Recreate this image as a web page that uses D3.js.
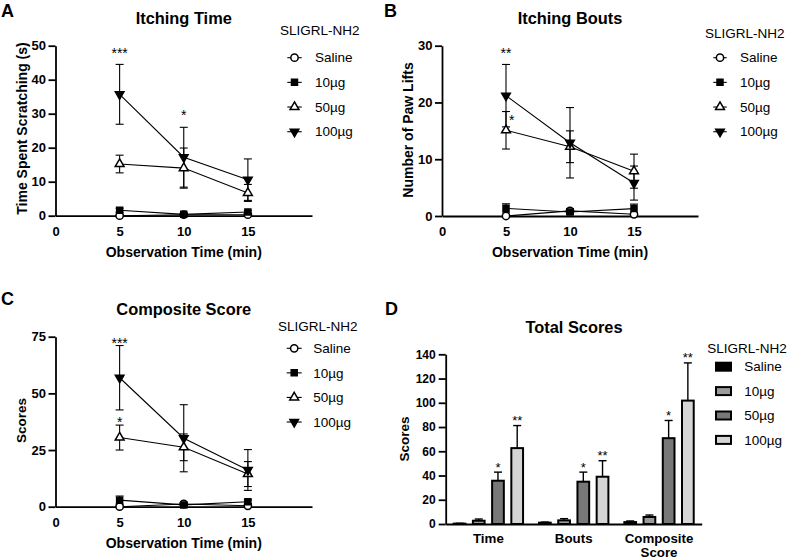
<!DOCTYPE html>
<html><head><meta charset="utf-8">
<script src="https://cdn.jsdelivr.net/npm/d3@7"></script>
<style>
body{margin:0;background:#fff}
svg{display:block}
text{font-family:"Liberation Sans",Arial,Helvetica,sans-serif;fill:#000}
</style>
</head><body>
<svg id="c" width="787" height="560"></svg>
<script>
// ---------- data ----------
const times = [5, 10, 15];
const groups = ["Saline", "10µg", "50µg", "100µg"];
const xTicks = [0, 5, 10, 15];

const timeMeans = [[0, 0.3, 0.3], [1.6, 0.4, 1.1], [15.2, 14.0, 6.7], [35.7, 17.2, 10.6]];
const timeErrs  = [[0.2, 0.3, 0.3], [0.6, 0.3, 0.4], [2.6, 5.9, 2.5], [8.8, 8.8, 6.1]];
const timeTicks = [0, 10, 20, 30, 40, 50];
const timeStars = [[5, 48.8, "***"], [10, 30.6, "*"]];

const boutMeans = [[0, 0.9, 0.3], [1.35, 0.7, 1.3], [15.1, 12.2, 7.9], [21.2, 12.9, 5.8]];
const boutErrs  = [[0.2, 0.4, 0.2], [0.8, 0.4, 0.8], [3.3, 2.8, 3.0], [5.5, 6.2, 3.0]];
const boutTicks = [0, 10, 20, 30];
const boutStars = [[5, 29.2, "**"], [5.45, 17.5, "*"]];

const compMeans = [[0, 1.2, 0.4], [2.9, 0.8, 2.2], [30.5, 26.2, 14.4], [56.9, 30.2, 16.2]];
const compErrs  = [[0.3, 0.5, 0.3], [1.8, 0.5, 0.8], [5.5, 5.9, 5.5], [14.2, 14.8, 9.0]];
const compTicks = [0, 25, 50, 75];
const compStars = [[5, 73.5, "***"], [5, 38.7, "*"]];

const totalCats  = ["Time", "Bouts", "Composite Score"];
const totalMeans = [[0.3, 1.1, 1.6], [2.7, 3.0, 5.8], [35.7, 34.9, 70.8], [62.6, 39.0, 101.8]];
const totalErrs  = [[0.3, 0.5, 0.9], [1.4, 1.4, 1.6], [7.1, 7.9, 14.6], [18.6, 13.2, 31.1]];
const totalTicks = [0, 20, 40, 60, 80, 100, 120, 140];
const totalStars = [["", "", ""], ["", "", ""], ["*", "*", "*"], ["**", "**", "**"]];

const legendTitle = "SLIGRL-NH2";

// ---------- styles ----------
const symTypes = [d3.symbolCircle, d3.symbolSquare, d3.symbolTriangle, d3.symbolTriangle];
const symRot   = [0, 0, 0, 180];
const symFill  = ["#fff", "#000", "#fff", "#000"];
const symSize  = [42, 36, 34, 32];
const barFill  = ["#000", "#9b9b9b", "#787878", "#d5d5d5"];

const svg = d3.select("#c");

function styleAxis(g, fs, sw) {
  g.selectAll("path.domain").attr("stroke", "#000").attr("stroke-width", sw);
  g.selectAll(".tick line").attr("stroke", "#000").attr("stroke-width", sw);
  g.selectAll("text").attr("font-size", fs).attr("font-weight", "bold")
    .attr("font-family", '"Liberation Sans",Arial,sans-serif').attr("fill", "#000");
}

function marker(sel, i, x, y) {
  sel.append("path")
    .attr("d", d3.symbol().type(symTypes[i]).size(symSize[i])())
    .attr("transform", `translate(${x},${y}) rotate(${symRot[i]})`)
    .attr("fill", symFill[i]).attr("stroke", "#000").attr("stroke-width", 1.5);
}

function linePanel(c) {
  const x = d3.scaleLinear().domain([0, 20]).range(c.xr);
  const y = d3.scaleLinear().domain([0, c.ymax]).range(c.yr);
  const g = svg.append("g");

  const ya = g.append("g").attr("transform", `translate(${c.xr[0]},0)`)
    .call(d3.axisLeft(y).tickValues(c.ticks).tickSize(7).tickSizeOuter(0).tickPadding(2.5));
  styleAxis(ya, 13, 1.8);
  const xa = g.append("g").attr("transform", `translate(0,${c.yr[0]})`)
    .call(d3.axisBottom(x).tickValues(xTicks).tickSize(0).tickSizeOuter(0).tickPadding(10.7));
  styleAxis(xa, 13, 1.8);

  // error bars
  c.means.forEach((m, i) => {
    m.forEach((v, j) => {
      const e = c.errs[i][j];
      const cx = x(times[j]);
      g.append("line").attr("x1", cx).attr("x2", cx).attr("y1", y(v - e)).attr("y2", y(v + e))
        .attr("stroke", "#000").attr("stroke-width", 1.1);
      [v - e, v + e].forEach(w => {
        g.append("line").attr("x1", cx - 4).attr("x2", cx + 4).attr("y1", y(w)).attr("y2", y(w))
          .attr("stroke", "#000").attr("stroke-width", 1.1);
      });
    });
  });
  // lines
  const ln = d3.line().x((d, j) => x(times[j])).y(d => y(d));
  c.means.forEach(m => {
    g.append("path").attr("d", ln(m)).attr("fill", "none").attr("stroke", "#000").attr("stroke-width", 1.1);
  });
  // markers
  c.means.forEach((m, i) => m.forEach((v, j) => marker(g, i, x(times[j]), y(v))));
  // stars
  c.stars.forEach(s => {
    g.append("text").attr("x", x(s[0])).attr("y", y(s[1]) + 8).attr("text-anchor", "middle")
      .attr("font-size", 14).text(s[2]);
  });
  // title, labels
  const cx = (c.xr[0] + c.xr[1]) / 2;
  g.append("text").attr("x", cx).attr("y", c.titleY).attr("text-anchor", "middle")
    .attr("font-size", 16.4).attr("font-weight", "bold").text(c.title);
  g.append("text").attr("x", cx).attr("y", c.xlabY).attr("text-anchor", "middle")
    .attr("font-size", 14).attr("font-weight", "bold").text("Observation Time (min)");
  g.append("text").attr("transform", `translate(${c.ylab[0]},${c.ylab[1]}) rotate(-90)`)
    .attr("dy", "0.35em").attr("text-anchor", "middle")
    .attr("font-size", c.ylabFs).attr("font-weight", "bold").text(c.ylabel);
  g.append("text").attr("x", c.letter[0]).attr("y", c.letter[1])
    .attr("font-size", 18).attr("font-weight", "bold").text(c.letterText);
  // legend
  const L = c.legend;
  g.append("text").attr("x", L.tx).attr("y", L.ty).attr("dy", "0.35em")
    .attr("font-size", 13.5).text(legendTitle);
  groups.forEach((name, i) => {
    const ry = L.y0 + i * L.step;
    g.append("line").attr("x1", L.s0).attr("x2", L.s1).attr("y1", ry).attr("y2", ry)
      .attr("stroke", "#000").attr("stroke-width", 1.1);
    marker(g, i, (L.s0 + L.s1) / 2, ry);
    g.append("text").attr("x", L.txt).attr("y", ry).attr("dy", "0.35em")
      .attr("font-size", 13.5).text(name);
  });
}

linePanel({
  xr: [55.5, 312], yr: [215.7, 45.7], ymax: 50, ticks: timeTicks,
  means: timeMeans, errs: timeErrs, stars: timeStars,
  title: "Itching Time", titleY: 24, xlabY: 257,
  ylabel: "Time Spent Scratching (s)", ylab: [21.7, 128.5], ylabFs: 14,
  letterText: "A", letter: [1, 16.5],
  legend: { tx: 280, ty: 30, y0: 57.7, step: 24.67, s0: 287.3, s1: 301.7, txt: 315 }
});
linePanel({
  xr: [442, 698], yr: [216, 45.7], ymax: 30, ticks: boutTicks,
  means: boutMeans, errs: boutErrs, stars: boutStars,
  title: "Itching Bouts", titleY: 24, xlabY: 257,
  ylabel: "Number of Paw Lifts", ylab: [408, 130], ylabFs: 14,
  letterText: "B", letter: [384, 16.5],
  legend: { tx: 705, ty: 33.7, y0: 57.7, step: 24.67, s0: 713.3, s1: 726.7, txt: 740 }
});
linePanel({
  xr: [55.5, 312], yr: [506.7, 336.7], ymax: 75, ticks: compTicks,
  means: compMeans, errs: compErrs, stars: compStars,
  title: "Composite Score", titleY: 315, xlabY: 548,
  ylabel: "Scores", ylab: [21, 420.5], ylabFs: 13.5,
  letterText: "C", letter: [1, 305],
  legend: { tx: 278, ty: 326.7, y0: 348.3, step: 24.57, s0: 286.7, s1: 301.7, txt: 313.3 }
});

// ---------- Panel D: bars ----------
(function () {
  const x0 = d3.scaleBand().domain(totalCats).range([445.7, 701.7]);
  const x1 = d3.scaleBand().domain(groups).range([0, x0.bandwidth()]).paddingInner(0.39).paddingOuter(0.415);
  const y = d3.scaleLinear().domain([0, 140]).range([524, 354.3]);
  const g = svg.append("g");

  // bars
  totalMeans.forEach((m, i) => {
    m.forEach((v, j) => {
      const bx = x0(totalCats[j]) + x1(groups[i]);
      const bw = x1.bandwidth();
      g.append("rect").attr("x", bx).attr("y", y(v)).attr("width", bw).attr("height", y(0) - y(v))
        .attr("fill", barFill[i]).attr("stroke", "#000").attr("stroke-width", 2);
      const e = totalErrs[i][j];
      const cx = bx + bw / 2;
      g.append("line").attr("x1", cx).attr("x2", cx).attr("y1", y(v)).attr("y2", y(v + e))
        .attr("stroke", "#000").attr("stroke-width", 1.4);
      g.append("line").attr("x1", cx - 4).attr("x2", cx + 4).attr("y1", y(v + e)).attr("y2", y(v + e))
        .attr("stroke", "#000").attr("stroke-width", 1.4);
      const s = totalStars[i][j];
      if (s) {
        g.append("text").attr("x", cx).attr("y", y(v + e) - 8 + 7.5).attr("text-anchor", "middle")
          .attr("font-size", 13).text(s);
      }
    });
  });

  const ya = g.append("g").attr("transform", "translate(445.7,0)")
    .call(d3.axisLeft(y).tickValues(totalTicks).tickSize(7).tickSizeOuter(0).tickPadding(3));
  styleAxis(ya, 12, 1.8);
  const xa = g.append("g").attr("transform", "translate(0,524)")
    .call(d3.axisBottom(x0).tickSize(0).tickSizeOuter(0).tickPadding(10));
  styleAxis(xa, 13.3, 1.8);
  xa.selectAll(".tick text").each(function (d) {
    const words = d.split(" ");
    if (words.length > 1) {
      const t = d3.select(this).text(null);
      words.forEach((w, k) => {
        t.append("tspan").attr("x", 0).attr("dy", k === 0 ? "0.71em" : "1.05em").text(w);
      });
      t.attr("dy", null);
    }
  });

  g.append("text").attr("x", 574).attr("y", 333).attr("text-anchor", "middle")
    .attr("font-size", 16.4).attr("font-weight", "bold").text("Total Scores");
  g.append("text").attr("transform", "translate(404,439) rotate(-90)").attr("dy", "0.35em")
    .attr("text-anchor", "middle").attr("font-size", 13.5).attr("font-weight", "bold").text("Scores");
  g.append("text").attr("x", 385).attr("y", 315).attr("font-size", 18).attr("font-weight", "bold").text("D");

  // legend
  g.append("text").attr("x", 707.3).attr("y", 348.3).attr("dy", "0.35em").attr("font-size", 13.5).text(legendTitle);
  groups.forEach((name, i) => {
    const ry = 366.7 + i * 24.4;
    g.append("rect").attr("x", 716).attr("y", ry - 4).attr("width", 15).attr("height", 8)
      .attr("fill", barFill[i]).attr("stroke", "#000").attr("stroke-width", 2);
    g.append("text").attr("x", 744.3).attr("y", ry).attr("dy", "0.35em").attr("font-size", 13.5).text(name);
  });
})();
</script>
</body></html>
